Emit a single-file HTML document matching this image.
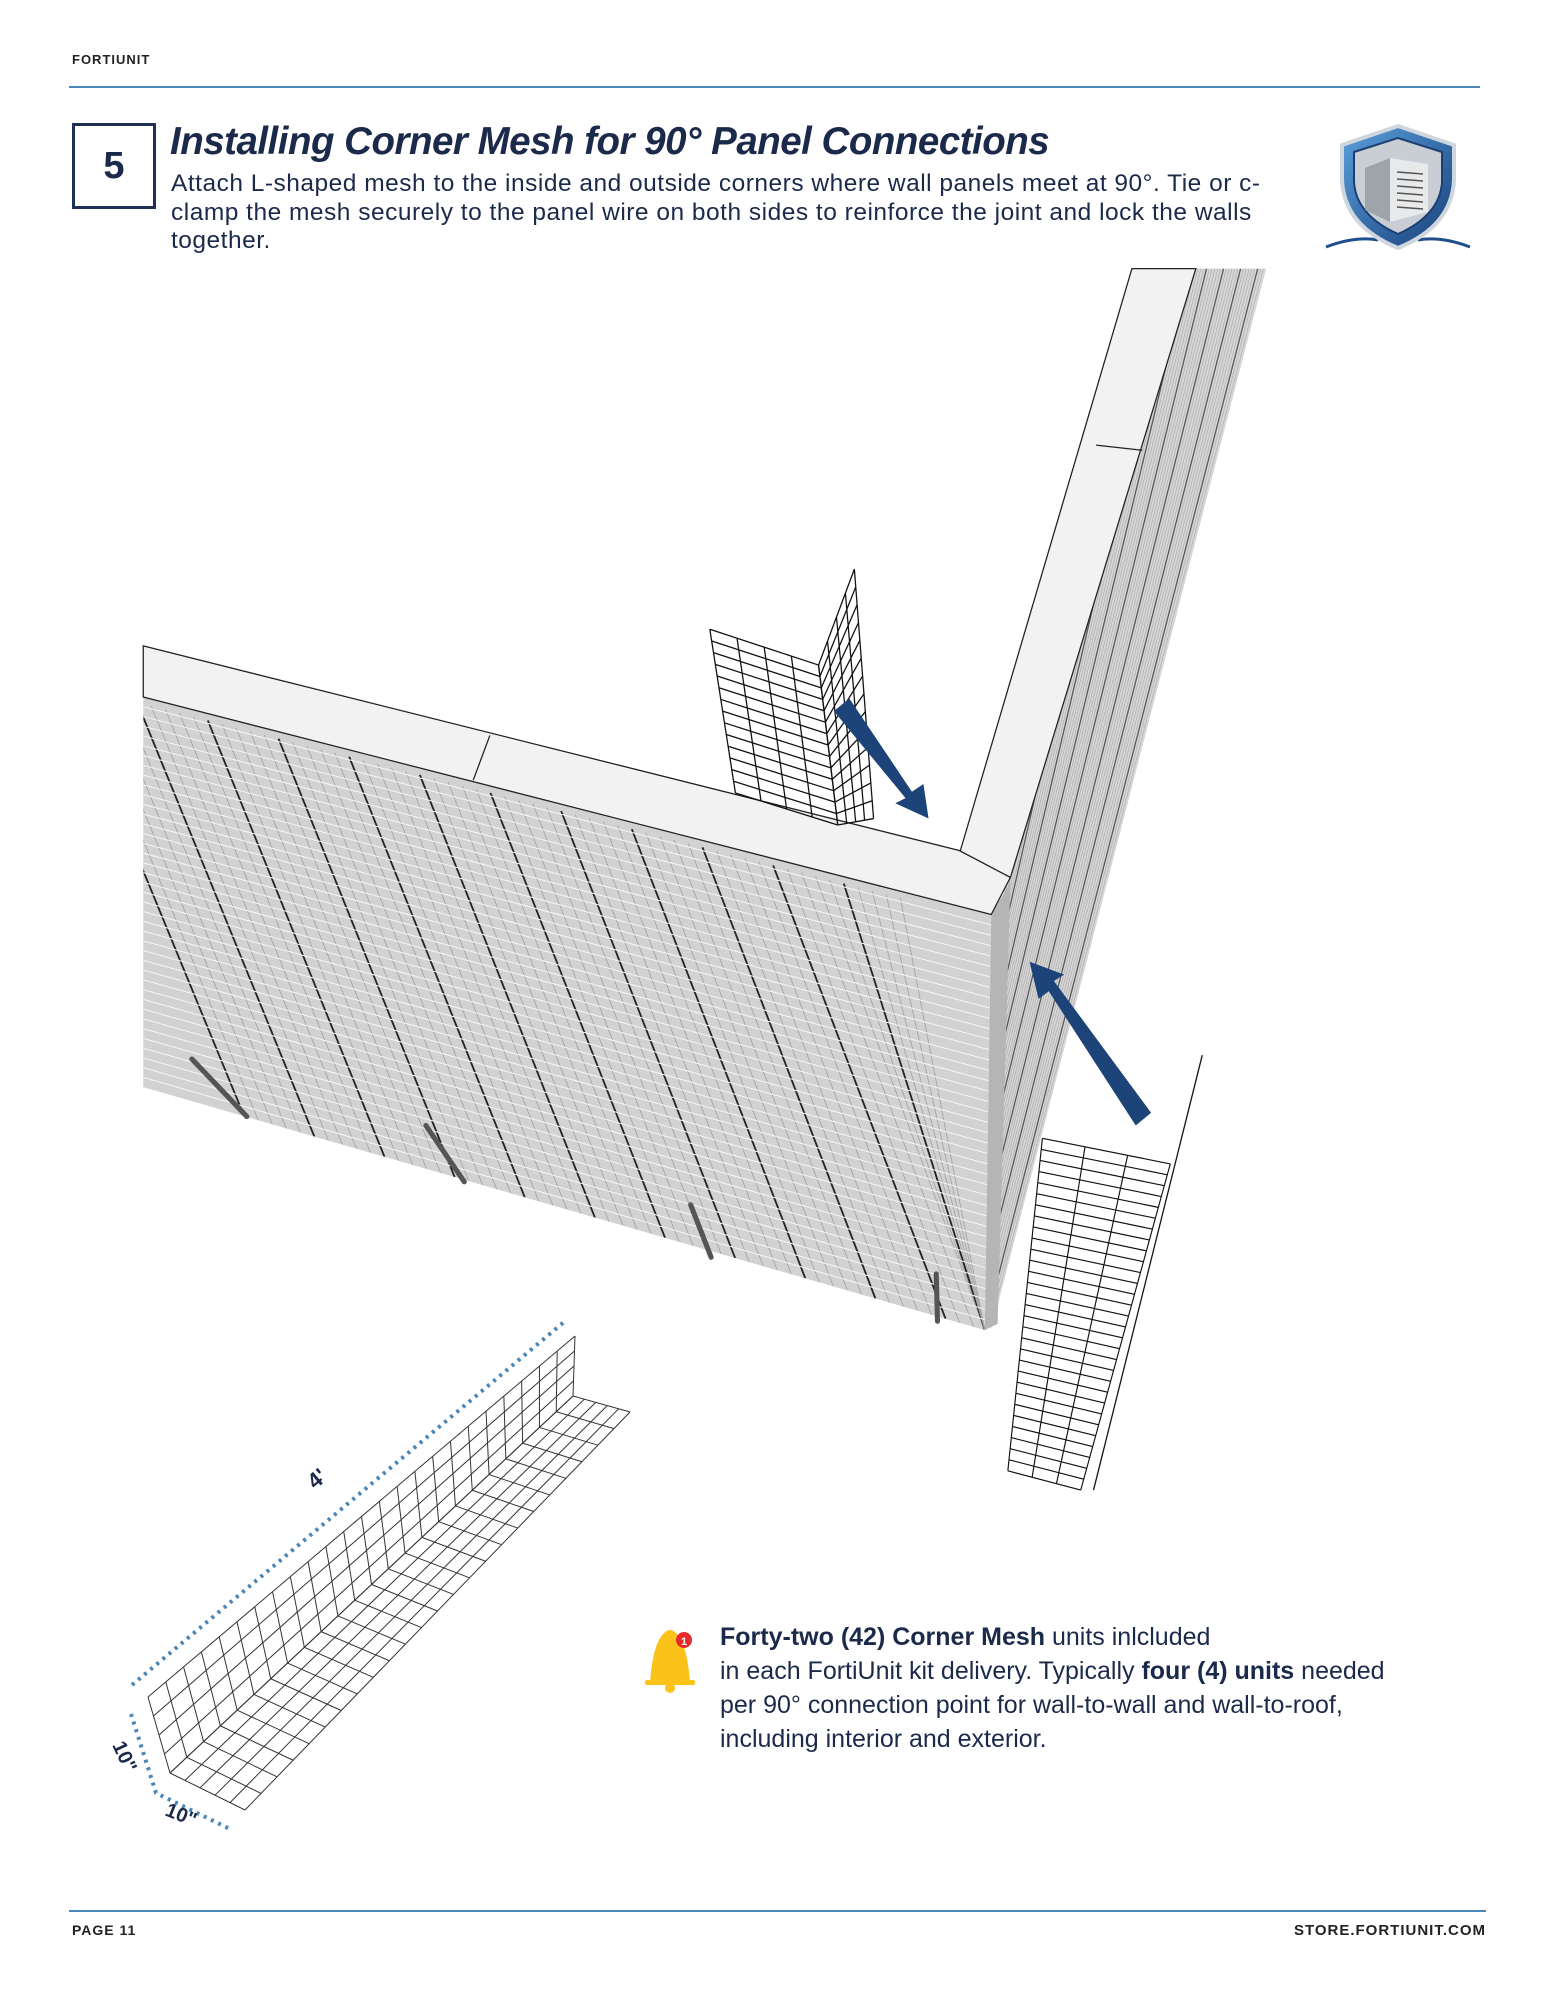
<!DOCTYPE html>
<html><head><meta charset="utf-8"><style>
html,body{margin:0;padding:0;background:#fff}
body{width:1545px;height:2000px;position:relative;overflow:hidden;font-family:"Liberation Sans",sans-serif;color:#1b2a4a}
.a{position:absolute}
</style></head><body>
<div class="a" style="left:72px;top:52px;font-size:13px;letter-spacing:1px;font-weight:bold;color:#222">FORTIUNIT</div>
<div class="a" style="left:69px;top:86px;width:1411px;height:2px;background:#4b86b8"></div>
<div class="a" style="left:72px;top:123px;border:3px solid #1f2f55;box-sizing:border-box;width:84px;height:86px;font-size:38px;font-weight:bold;text-align:center;line-height:80px;color:#1b2a4a">5</div>
<div class="a" style="left:170px;top:120px;font-size:38.5px;font-weight:bold;font-style:italic;white-space:nowrap;letter-spacing:-0.5px;color:#1b2a4a">Installing Corner Mesh for 90° Panel Connections</div>
<div class="a" style="left:171px;top:170px;font-size:24.5px;line-height:28.5px;white-space:nowrap;color:#1b2a4a;letter-spacing:0.5px">Attach L-shaped mesh to the inside and outside corners where wall panels meet at 90°. Tie or c-<br>clamp the mesh securely to the panel wire on both sides to reinforce the joint and lock the walls<br>together.</div>

<svg class="a" style="left:0;top:0" width="1545" height="2000" viewBox="0 0 1545 2000">
<defs>
<linearGradient id="sh" x1="0" y1="0" x2="1" y2="1"><stop offset="0" stop-color="#5aa0dc"/><stop offset="1" stop-color="#173f7a"/></linearGradient>
<clipPath id="cf"><polygon points="112,545 775,715 770,1040 112,850"/></clipPath>
<clipPath id="cr"><polygon points="785,688 890,210 990,210 775,1040"/></clipPath>
</defs>
<path d="M1326,247 Q1355,236 1378,240 M1470,247 Q1441,236 1418,240" fill="none" stroke="#1f4f8c" stroke-width="3"/>
<path d="M1342,145 L1398,126 L1454,145 L1454,180 Q1452,226 1398,248 Q1344,226 1342,180 Z" fill="url(#sh)" stroke="#cfd6de" stroke-width="4"/>
<path d="M1354,152 L1398,138 L1442,152 L1442,182 Q1440,215 1398,234 Q1356,215 1354,182 Z" fill="#c9ced4" stroke="#1c3e72" stroke-width="2"/>
<polygon points="1365,168 1390,158 1390,222 1365,210" fill="#9ea4aa"/>
<polygon points="1390,158 1428,164 1428,212 1390,222" fill="#e7e9eb"/>
<g stroke="#555" stroke-width="1.5"><line x1="1397" y1="172" x2="1423" y2="174"/><line x1="1397" y1="179" x2="1423" y2="181"/><line x1="1397" y1="186" x2="1423" y2="188"/><line x1="1397" y1="193" x2="1423" y2="195"/><line x1="1397" y1="200" x2="1423" y2="202"/><line x1="1397" y1="207" x2="1423" y2="209"/></g>

<g transform="scale(1.279)">
 <polygon points="785,688 890,210 990,210 775,1040" fill="#d6d6d6"/>
 <g clip-path="url(#cr)" id="rlines"></g>
 <polygon points="750,668 885,210 935,210 790,686" fill="#f2f2f2" stroke="#222" stroke-width="1"/>
 <polygon points="112,545 775,715 770,1040 112,850" fill="#d2d2d2"/>
 <g clip-path="url(#cf)" id="flines"></g>
 <polygon points="775,715 790,690 780,1035 770,1040" fill="#b5b5b5"/>
 <polygon points="112,505 750,665 790,686 775,715 112,545" fill="#f2f2f2" stroke="#222" stroke-width="1"/>
 <line x1="370" y1="610" x2="383" y2="575" stroke="#222" stroke-width="1"/>
 <line x1="857" y1="348" x2="893" y2="352" stroke="#222" stroke-width="1"/>
 <g id="um" fill="none" stroke="#111" stroke-width="1"></g>
 <g id="lm" fill="none" stroke="#111" stroke-width="0.9"></g>
 <line x1="940" y1="825" x2="855" y2="1165" stroke="#111" stroke-width="1"/>
 <polygon points="652,556 664,546 713,619 722,613 726,640 700,628 708,624" fill="#1c4479"/>
 <polygon points="900,870 888,880 820,775 812,781 805,752 832,762 824,767" fill="#1c4479"/>
 <g stroke="#555" stroke-width="4" stroke-linecap="round"><line x1="150" y1="828" x2="193" y2="873"/><line x1="333" y1="880" x2="363" y2="924"/><line x1="540" y1="942" x2="556" y2="983"/><line x1="732" y1="996" x2="733" y2="1033"/></g>
</g>

<g id="bm" fill="none" stroke="#333" stroke-width="1"></g>
<g fill="none" stroke="#4b86b8" stroke-width="4" stroke-dasharray="3 5">
 <line x1="132" y1="1685" x2="564" y2="1322"/>
 <polyline points="131,1714 156,1793 232,1830"/>
</g>
<text x="315" y="1490" transform="rotate(-40 315 1490)" font-family="Liberation Sans" font-weight="bold" font-size="22" fill="#1b2a4a">4'</text>
<text x="112" y="1745" transform="rotate(65 112 1745)" font-family="Liberation Sans" font-weight="bold" font-size="20" fill="#1b2a4a">10"</text>
<text x="164" y="1815" transform="rotate(22 164 1815)" font-family="Liberation Sans" font-weight="bold" font-size="20" fill="#1b2a4a">10"</text>

<path d="M650,1683 Q652,1655 658,1642 Q664,1630 670,1630 Q676,1630 682,1642 Q688,1655 690,1683 Z" fill="#fbc21a"/>
<rect x="645" y="1680" width="50" height="5" rx="2" fill="#fbc21a"/>
<circle cx="670" cy="1688" r="5" fill="#fbc21a"/>
<circle cx="684" cy="1640" r="8" fill="#e52b2b"/>
<text x="684" y="1645" text-anchor="middle" font-family="Liberation Sans" font-weight="bold" font-size="11" fill="#fff">1</text>
</svg>

<div class="a" style="left:720px;top:1620px;font-size:25px;line-height:34px;white-space:nowrap;letter-spacing:0;color:#1b2a4a"><b>Forty-two (42) Corner Mesh</b> units inlcluded<br>in each FortiUnit kit delivery. Typically <b>four (4) units</b> needed<br>per 90° connection point for wall-to-wall and wall-to-roof,<br>including interior and exterior.</div>

<div class="a" style="left:69px;top:1910px;width:1417px;height:2px;background:#4b86b8"></div>
<div class="a" style="left:72px;top:1922px;font-size:14px;font-weight:bold;letter-spacing:1px;color:#222">PAGE 11</div>
<div class="a" style="right:59px;top:1922px;font-size:15px;font-weight:bold;letter-spacing:1px;color:#222">STORE.FORTIUNIT.COM</div>

<script>
var NS="http://www.w3.org/2000/svg";
function L(g,x1,y1,x2,y2,c,w){var l=document.createElementNS(NS,"line");l.setAttribute("x1",x1);l.setAttribute("y1",y1);l.setAttribute("x2",x2);l.setAttribute("y2",y2);if(c)l.setAttribute("stroke",c);if(w)l.setAttribute("stroke-width",w);g.appendChild(l);}
function lerp(a,b,t){return [a[0]+(b[0]-a[0])*t,a[1]+(b[1]-a[1])*t];}
function grid(g,p0,p1,p2,p3,nu,nv){
 for(var i=0;i<=nu;i++){var t=i/nu,a=lerp(p0,p1,t),b=lerp(p3,p2,t);L(g,a[0],a[1],b[0],b[1]);}
 for(var j=0;j<=nv;j++){var t=j/nv,a=lerp(p0,p3,t),b=lerp(p1,p2,t);L(g,a[0],a[1],b[0],b[1]);}
}
var f=document.getElementById("flines");
for(var i=0;i<60;i++){var t=i/60;var a=lerp([112,545],[775,715],t);var b=lerp([112,850],[770,1040],Math.min(1,t+0.12));
 var dark=(i%5==0);L(f,a[0]-60,a[1]-10,b[0],b[1],dark?"#222":"#a5a5a5",dark?1.4:0.7);}
for(var j=0;j<40;j++){var t=j/40;var a=lerp([112,545],[112,850],t);var b=lerp([775,715],[770,1040],t);L(f,a[0],a[1],b[0],b[1],"#f6f6f6",0.8);}
var r=document.getElementById("rlines");
for(var i=0;i<45;i++){var t=i/45;var a=lerp([890,210],[990,210],t);var b=lerp([785,688],[775,1040],t);
 L(r,a[0],a[1],b[0],b[1],(i%6==0)?"#555":"#aaa",(i%6==0)?1:0.5);}
var um=document.getElementById("um");
grid(um,[555,492],[640,520],[655,645],[575,620],4,14);
grid(um,[640,520],[668,445],[683,640],[655,645],4,14);
var lm=document.getElementById("lm");
grid(lm,[815,890],[915,910],[845,1165],[788,1150],3,30);
var bm=document.getElementById("bm");
grid(bm,[148,1697],[575,1336],[573,1396],[170,1773],24,4);
grid(bm,[170,1773],[573,1396],[630,1412],[245,1810],24,5);
</script>
</body></html>
